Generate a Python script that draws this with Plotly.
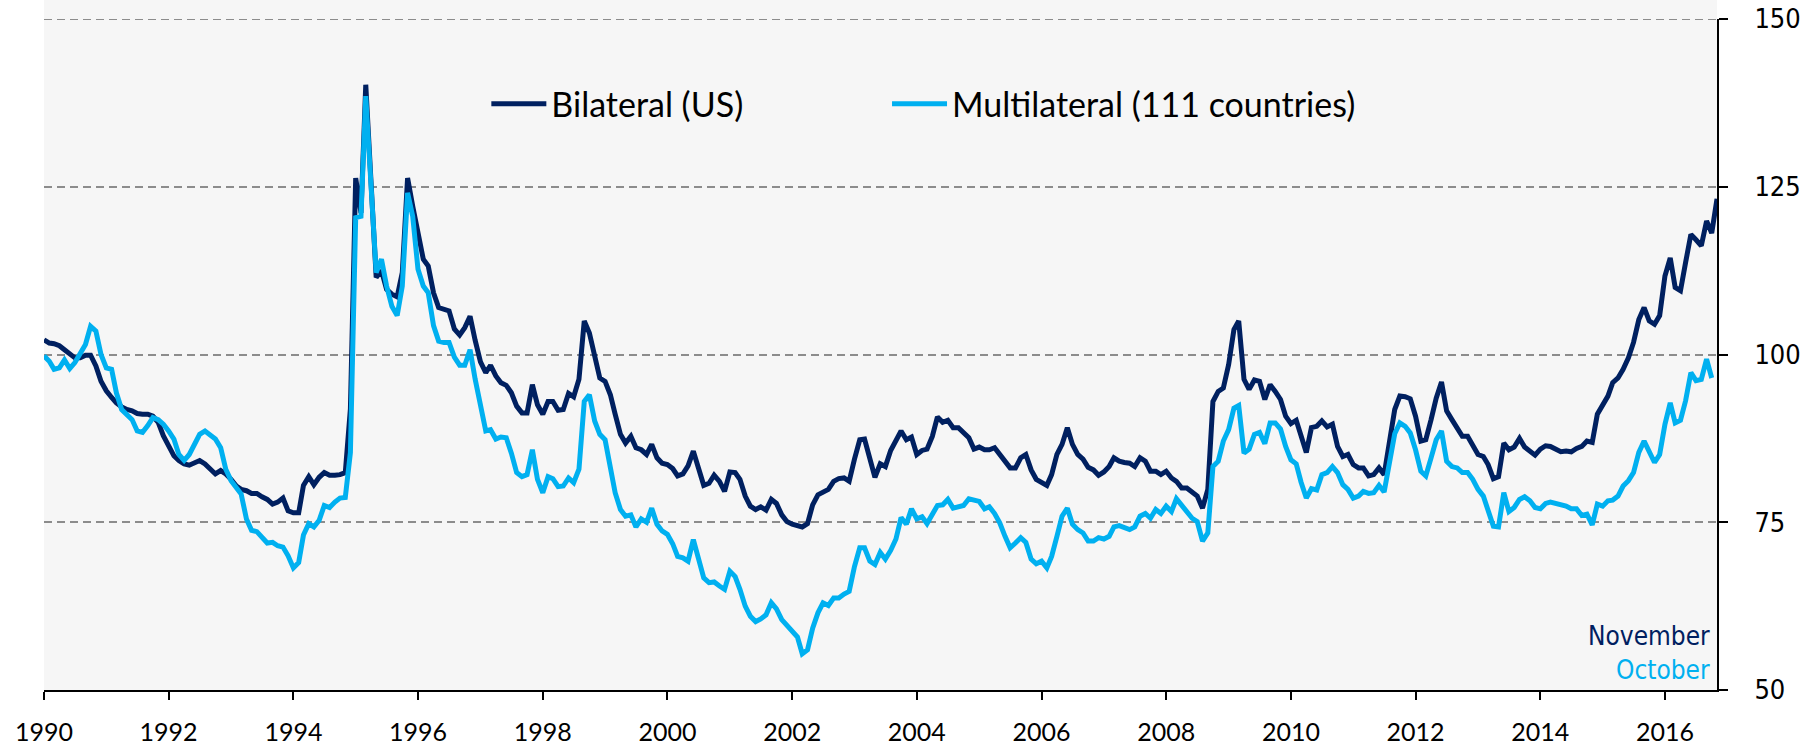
import pandas as pd
import plotly.graph_objects as go

# Monthly values, Jan 1990 onward
bilateral = [
    102.2, 101.7, 101.6, 101.3, 100.7, 100.0, 99.5, 99.5, 99.9, 99.9, 98.3, 96.0,   # 1990
    94.6, 93.6, 92.8, 92.2, 91.8, 91.6, 91.2, 91.1, 91.1, 90.8, 89.9, 87.9,          # 1991
    86.4, 84.9, 84.2, 83.7, 83.5, 83.9, 84.2, 83.7, 82.9, 82.2, 82.7, 82.2,          # 1992
    81.4, 80.4, 79.9, 79.7, 79.3, 79.3, 78.8, 78.4, 77.7, 78.0, 78.6, 76.7,          # 1993
    76.4, 76.4, 80.5, 81.8, 80.6, 81.7, 82.4, 82.0, 82.0, 82.1, 82.4, 91.9,          # 1994
    126.3, 121.1, 140.2, 126.6, 111.5, 112.5, 109.7, 109.0, 108.6, 112.2, 126.3, 122.1,  # 1995
    117.7, 114.2, 113.2, 109.2, 107.0, 106.8, 106.5, 103.8, 102.9, 104.0, 105.7, 102.1,  # 1996
    98.9, 97.3, 98.4, 96.8, 95.8, 95.4, 94.3, 92.3, 91.3, 91.3, 95.5, 92.5,          # 1997
    91.1, 93.0, 93.0, 91.7, 91.8, 94.2, 93.7, 96.3, 105.0, 103.2, 99.5, 96.5,        # 1998
    96.0, 94.0, 91.1, 88.1, 86.8, 87.8, 86.1, 85.8, 85.1, 86.6, 84.6, 83.8,          # 1999
    83.6, 83.0, 81.9, 82.2, 83.4, 85.6, 83.1, 80.5, 80.8, 82.0, 81.1, 79.6,          # 2000
    82.5, 82.4, 81.4, 78.9, 77.4, 76.9, 77.3, 76.8, 78.4, 77.8, 76.1, 75.1,          # 2001
    74.7, 74.5, 74.3, 74.8, 77.6, 79.1, 79.6, 79.9, 81.1, 81.5, 81.6, 81.1,          # 2002
    84.4, 87.3, 87.4, 84.6, 81.7, 83.7, 83.3, 85.7, 87.0, 88.6, 87.3, 87.7,          # 2003
    85.1, 85.7, 85.9, 87.8, 90.7, 89.9, 90.2, 89.1, 89.1, 88.4, 87.6, 85.9,          # 2004
    86.2, 85.8, 85.8, 86.1, 85.1, 84.1, 83.1, 83.1, 84.6, 85.1, 82.8, 81.4,          # 2005
    81.0, 80.5, 82.1, 85.1, 86.6, 89.1, 86.6, 85.1, 84.4, 83.2, 82.8, 82.0,          # 2006
    82.5, 83.3, 84.6, 84.1, 83.9, 83.8, 83.3, 84.6, 84.1, 82.6, 82.6, 82.1,          # 2007
    82.6, 81.6, 81.1, 80.1, 80.1, 79.6, 78.9, 77.1, 79.9, 93.0, 94.5, 95.0,          # 2008
    98.5, 103.7, 105.0, 96.3, 94.8, 96.2, 96.0, 93.3, 95.5, 94.5, 93.3, 90.8,        # 2009
    89.7, 90.2, 87.8, 85.4, 89.1, 89.3, 90.1, 89.2, 89.6, 86.3, 84.8, 85.1,          # 2010
    83.6, 83.1, 83.1, 81.9, 82.1, 83.1, 82.1, 87.3, 91.8, 93.8, 93.7, 93.4,          # 2011
    90.8, 87.1, 87.3, 90.3, 93.5, 95.9, 91.6, 90.3, 89.1, 87.8, 87.8, 86.3,          # 2012
    85.1, 84.8, 83.6, 81.5, 81.8, 86.8, 85.8, 86.2, 87.5, 86.2, 85.5, 85.0,          # 2013
    85.9, 86.4, 86.3, 85.9, 85.5, 85.6, 85.5, 86.0, 86.3, 87.1, 86.9, 91.1,          # 2014
    92.3, 93.8, 95.8, 96.5, 97.8, 99.5, 101.8, 105.2, 107.0, 105.0, 104.5, 105.8,    # 2015
    111.7, 114.4, 110.0, 109.5, 113.7, 117.9, 117.1, 116.2, 119.9, 118.1, 123.2,     # 2016 (to Nov)
]

multilateral = [
    99.8, 99.0, 97.8, 98.0, 99.2, 97.9, 98.8, 100.2, 101.5, 104.2, 103.5, 100.0,    # 1990
    98.0, 97.8, 94.3, 91.8, 91.1, 90.3, 88.6, 88.4, 89.4, 90.6, 90.3, 89.6,          # 1991
    88.6, 87.4, 85.1, 84.2, 85.1, 86.6, 88.1, 88.6, 88.1, 87.4, 86.1, 82.9,          # 1992
    81.2, 80.2, 79.2, 75.5, 73.8, 73.6, 72.8, 71.9, 72.0, 71.5, 71.3, 70.0,          # 1993
    68.2, 69.0, 73.1, 74.8, 74.3, 75.3, 77.5, 77.2, 78.0, 78.6, 78.7, 85.4,          # 1994
    120.4, 120.6, 138.5, 125.1, 112.2, 114.2, 110.2, 107.2, 105.8, 110.2, 124.1, 120.6,  # 1995
    112.7, 110.2, 109.2, 104.3, 102.0, 101.8, 101.8, 99.6, 98.4, 98.4, 100.7, 96.3,  # 1996
    92.1, 88.6, 88.8, 87.4, 87.7, 87.6, 85.3, 82.4, 81.8, 82.1, 85.8, 81.4,          # 1997
    79.4, 81.8, 81.5, 80.3, 80.4, 81.6, 80.9, 82.9, 93.0, 94.0, 90.1, 88.1,          # 1998
    87.3, 83.3, 79.4, 76.9, 75.9, 76.1, 74.3, 75.5, 75.0, 77.1, 74.7, 73.7,          # 1999
    73.2, 71.8, 69.9, 69.7, 69.2, 72.4, 69.4, 66.7, 66.0, 66.1, 65.5, 65.0,          # 2000
    67.7, 66.9, 65.0, 62.5, 61.0, 60.2, 60.6, 61.2, 63.0, 62.1, 60.5, 59.7,          # 2001
    58.7, 57.9, 55.4, 56.0, 59.2, 61.5, 63.0, 62.6, 63.7, 63.7, 64.3, 64.7,          # 2002
    68.4, 71.2, 71.2, 69.2, 68.7, 70.5, 69.5, 70.8, 72.5, 75.7, 74.7, 77.0,          # 2003
    75.5, 75.8, 74.8, 76.1, 77.5, 77.6, 78.4, 77.1, 77.4, 77.5, 78.5, 78.3,          # 2004
    78.1, 77.0, 77.3, 76.3, 74.9, 72.9, 71.2, 71.9, 72.7, 72.0, 69.5, 68.8,          # 2005
    69.2, 68.2, 69.9, 72.9, 75.9, 77.1, 74.7, 73.9, 73.4, 72.2, 72.2, 72.7,          # 2006
    72.5, 72.9, 74.3, 74.5, 74.2, 73.9, 74.3, 75.9, 76.3, 75.6, 76.9, 76.3,          # 2007
    77.4, 76.6, 78.5, 77.5, 76.6, 75.6, 75.1, 72.2, 73.4, 83.3, 84.1, 87.1,          # 2008
    88.8, 92.0, 92.4, 85.3, 85.9, 88.1, 88.4, 86.7, 89.8, 89.8, 88.9, 86.3,          # 2009
    84.3, 83.7, 81.0, 78.6, 80.0, 79.8, 82.1, 82.4, 83.3, 82.4, 80.6, 79.9,          # 2010
    78.6, 78.9, 79.6, 79.3, 79.4, 80.5, 79.5, 84.1, 88.2, 89.8, 89.3, 88.3,          # 2011
    85.8, 82.6, 81.9, 84.6, 87.3, 88.6, 84.1, 83.3, 83.1, 82.4, 82.4, 81.4,          # 2012
    79.9, 78.9, 76.9, 74.4, 74.3, 79.4, 76.6, 77.2, 78.4, 78.8, 78.2, 77.2,          # 2013
    77.0, 77.8, 78.0, 77.8, 77.6, 77.4, 77.0, 77.0, 76.0, 76.2, 74.6, 77.7,          # 2014
    77.4, 78.2, 78.3, 78.9, 80.4, 81.2, 82.4, 85.4, 87.1, 85.4, 83.9, 85.1,          # 2015
    89.6, 92.8, 89.8, 90.2, 93.1, 97.3, 96.1, 96.3, 99.3, 96.5,                      # 2016 (to Oct)
]

series_names = ["Bilateral (US)", "Multilateral (111 countries)"]
end_labels = ["November", "October"]
y_ticks = [50, 75, 100, 125, 150]

NAVY = "#002060"
LIGHT = "#00B0F0"
GRID = "#8C8C8C"
SIDE_FONT = "DejaVu Sans Condensed, DejaVu Sans"

dates_b = pd.date_range("1990-01-01", periods=len(bilateral), freq="MS")
dates_m = pd.date_range("1990-01-01", periods=len(multilateral), freq="MS")

fig = go.Figure()
fig.add_trace(go.Scatter(x=dates_b, y=bilateral, mode="lines", name=series_names[0],
                         line=dict(color=NAVY, width=5), legend="legend"))
fig.add_trace(go.Scatter(x=dates_m, y=multilateral, mode="lines", name=series_names[1],
                         line=dict(color=LIGHT, width=5), legend="legend2"))

legend_font = dict(family="Lato", size=34, color="black")

fig.update_layout(
    width=1810, height=748,
    margin=dict(l=44, r=93, t=19, b=58, pad=0, autoexpand=False),
    paper_bgcolor="white",
    plot_bgcolor="#F6F6F6",
    showlegend=True,
    legend=dict(orientation="h", x=0.2644, y=0.873, xanchor="left", yanchor="middle",
                bgcolor="rgba(0,0,0,0)", font=legend_font, itemwidth=55),
    legend2=dict(orientation="h", x=0.5039, y=0.873, xanchor="left", yanchor="middle",
                 bgcolor="rgba(0,0,0,0)", font=legend_font, itemwidth=55),
    xaxis=dict(
        type="date",
        range=[dates_b[0], dates_b[-1]],
        tickmode="linear", tick0="1990-01-01", dtick="M24", tickformat="%Y",
        ticks="outside", ticklen=8, tickwidth=1.5, tickcolor="black",
        showline=True, linecolor="black", linewidth=2,
        showgrid=False, zeroline=False,
        tickfont=dict(family="Lato", size=25, color="black"),
        ticklabelstandoff=11,
    ),
    yaxis=dict(
        side="right", range=[50, 150], tickvals=y_ticks,
        ticks="outside", ticklen=9, tickwidth=1.5, tickcolor="black",
        showline=True, linecolor="black", linewidth=2,
        showgrid=True, gridcolor=GRID, gridwidth=2, griddash="8px,5px",
        zeroline=False,
        tickfont=dict(family=SIDE_FONT, size=27, color="black"),
        ticklabelstandoff=21,
    ),
    shapes=[
        dict(type="rect", xref="paper", yref="paper", x0=0, x1=1, y0=1, y1=1.03,
             fillcolor="#F6F6F6", line=dict(width=0), layer="below"),
        dict(type="line", xref="paper", yref="y", x0=0, x1=1, y0=150, y1=150,
             line=dict(color=GRID, width=2, dash="8px,5px"), layer="below"),
    ],
    annotations=[
        dict(text=end_labels[0], xref="paper", yref="paper", x=0.997, y=0.081,
             xanchor="right", yanchor="middle", showarrow=False,
             font=dict(family=SIDE_FONT, size=26, color=NAVY)),
        dict(text=end_labels[1], xref="paper", yref="paper", x=0.997, y=0.030,
             xanchor="right", yanchor="middle", showarrow=False,
             font=dict(family=SIDE_FONT, size=26, color=LIGHT)),
    ],
)

fig.write_html("out.html", config={"displayModeBar": False},
               post_script="document.body.style.margin='0';document.body.style.overflow='hidden';")
